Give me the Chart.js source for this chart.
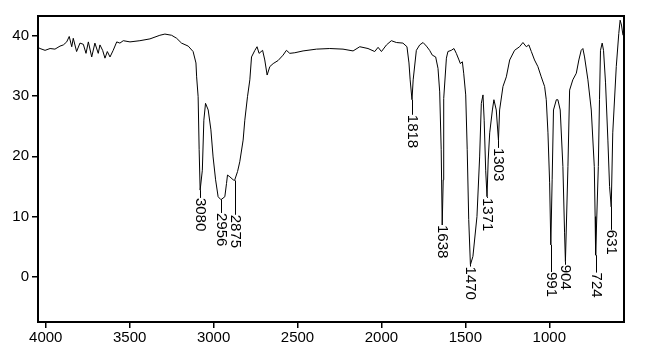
<!DOCTYPE html>
<html>
<head>
<meta charset="utf-8">
<script src="https://cdn.jsdelivr.net/npm/chart.js@4/dist/chart.umd.min.js"></script>
<style>
  html, body { margin: 0; padding: 0; background: #ffffff; }
  canvas { display: block; }
</style>
</head>
<body>
<canvas id="c" width="656" height="357"></canvas>
<script>
// Wavenumber (cm-1) and transmittance values
const wavenumbers = [
  4046, 4034, 4004, 3974, 3945, 3915, 3895, 3875, 3860, 3845, 3836, 3816, 3796, 3776, 3760, 3746,
  3726, 3707, 3687, 3677, 3661, 3647, 3633, 3617, 3598, 3577, 3558, 3538, 3498, 3439, 3379, 3320,
  3290, 3250, 3220, 3191, 3151, 3122, 3105, 3101, 3092, 3086, 3080, 3067, 3058, 3048, 3032, 3016,
  3003, 2988, 2973, 2956, 2933, 2923, 2917, 2903, 2883, 2875, 2857, 2844, 2824, 2814, 2798, 2784,
  2774, 2754, 2741, 2729, 2708, 2695, 2681, 2665, 2645, 2616, 2586, 2566, 2546, 2516, 2467, 2387,
  2308, 2229, 2169, 2129, 2080, 2040, 2020, 2000, 1970, 1941, 1911, 1872, 1848, 1836, 1829, 1818,
  1811, 1792, 1772, 1752, 1732, 1713, 1697, 1677, 1663, 1653, 1644, 1638, 1632, 1629, 1613, 1604,
  1584, 1568, 1554, 1538, 1530, 1518, 1510, 1498, 1489, 1480, 1470, 1455, 1431, 1415, 1405, 1395,
  1388, 1379, 1371, 1364, 1355, 1339, 1330, 1316, 1303, 1296, 1276, 1256, 1236, 1207, 1177, 1157,
  1137, 1122, 1107, 1088, 1068, 1048, 1028, 1018, 1008, 998, 991, 983, 975, 958, 949, 935,
  919, 909, 904, 889, 879, 860, 839, 824, 810, 800, 790, 770, 750, 732, 727, 724,
  708, 701, 695, 685, 677, 665, 651, 641, 631, 622, 601, 586, 578, 570, 561
];
const transmittance = [
  38.1, 37.9, 37.6, 37.9, 37.8, 38.3, 38.5, 39.0, 39.9, 38.2, 39.6, 37.4, 38.8, 38.6, 37.1, 39.0,
  36.5, 38.8, 37.1, 38.5, 37.6, 36.3, 37.4, 36.5, 37.6, 39.0, 38.8, 39.2, 39.0, 39.2, 39.5, 40.1,
  40.3, 40.1, 39.6, 38.8, 38.3, 37.4, 35.5, 33.2, 29.9, 21.1, 14.4, 17.7, 26.0, 28.8, 27.7, 24.4,
  19.9, 16.1, 13.3, 12.8, 13.3, 15.5, 16.9, 16.6, 16.1, 16.0, 17.5, 19.1, 22.7, 26.0, 29.9, 32.7,
  36.5, 37.6, 38.2, 37.1, 37.6, 36.0, 33.5, 34.9, 35.4, 35.9, 36.8, 37.6, 37.1, 37.2, 37.5, 37.8,
  37.9, 37.8, 37.5, 38.2, 37.9, 37.4, 38.1, 37.4, 38.5, 39.2, 38.9, 38.8, 38.2, 35.5, 32.7, 29.4,
  32.7, 37.6, 38.5, 38.9, 38.3, 37.6, 36.8, 36.5, 34.6, 30.7, 21.1, 8.6, 16.1, 29.6, 36.3, 37.4,
  37.6, 37.9, 37.1, 36.0, 35.4, 35.7, 33.8, 30.2, 21.1, 9.5, 2.0, 3.4, 10.0, 19.9, 28.8, 30.2,
  26.0, 17.7, 13.3, 19.4, 23.9, 27.7, 29.4, 27.7, 22.7, 27.7, 31.6, 33.2, 36.0, 37.6, 38.2, 38.9,
  38.2, 38.5, 37.4, 36.0, 34.9, 33.2, 31.6, 29.4, 23.9, 15.6, 5.3, 16.1, 27.7, 29.4, 29.4, 27.7,
  18.3, 7.3, 2.5, 18.3, 31.0, 32.7, 33.8, 36.0, 37.6, 37.9, 36.5, 32.7, 27.7, 18.3, 10.0, 3.6,
  18.3, 29.4, 37.6, 38.8, 37.6, 32.2, 22.7, 15.0, 11.6, 23.9, 34.9, 40.4, 42.6, 41.8, 40.1
];

// Peak annotations: wavenumber, transmittance at the band tip, transmittance at the label's top
const peakLabels      = ['3080', '2956', '2875', '1818', '1638', '1470', '1371', '1303', '991', '904', '724', '631'];
const peakWavenumbers = [3080, 2956, 2875, 1818, 1638, 1470, 1371, 1303, 991, 904, 724, 631];
const peakTipT        = [14.4, 12.8, 16.0, 29.4, 8.6, 2.0, 13.3, 22.7, 5.3, 2.5, 3.6, 11.6];
const peakLabelT      = [13.1, 10.6, 10.3, 26.9, 8.6, 1.7, 13.1, 21.4, 0.8, 2.0, 0.7, 7.8];

const xTicks = [4000, 3500, 3000, 2500, 2000, 1500, 1000];
const yTicks = [0, 10, 20, 30, 40];
const xRange = [555, 4046];
const yRange = [-7.5, 43.3];

const FONT_FAMILY = '"Liberation Sans Narrow", "Arial Narrow", "Liberation Sans", Arial, sans-serif';
const FONT_SIZE = 15;

const points = wavenumbers.map((v, i) => ({ x: v, y: transmittance[i] }));

const peakPlugin = {
  id: 'peaks',
  afterDatasetsDraw(chart) {
    const ctx = chart.ctx;
    const xs = chart.scales.x, ys = chart.scales.y;
    ctx.save();
    ctx.strokeStyle = '#000';
    ctx.fillStyle = '#000';
    ctx.lineWidth = 1;
    ctx.font = FONT_SIZE + 'px ' + FONT_FAMILY;
    peakWavenumbers.forEach((v, i) => {
      const px = Math.round(xs.getPixelForValue(v)) + 0.5;
      const yTip = ys.getPixelForValue(peakTipT[i]);
      const yLab = ys.getPixelForValue(peakLabelT[i]);
      if (yLab > yTip + 0.5) {
        ctx.beginPath();
        ctx.moveTo(px, yTip);
        ctx.lineTo(px, yLab);
        ctx.stroke();
      }
      ctx.save();
      ctx.translate(px, yLab);
      ctx.rotate(Math.PI / 2);
      ctx.textAlign = 'left';
      ctx.textBaseline = 'middle';
      ctx.fillText(peakLabels[i], 0, 0);
      ctx.restore();
    });
    ctx.restore();
  },
  afterDraw(chart) {
    const a = chart.chartArea;
    const ctx = chart.ctx;
    ctx.save();
    ctx.strokeStyle = '#000';
    ctx.lineWidth = 2;
    ctx.strokeRect(a.left, a.top, a.right - a.left, a.bottom - a.top);
    ctx.restore();
  }
};

new Chart(document.getElementById('c'), {
  type: 'line',
  data: {
    datasets: [{
      data: points,
      borderColor: '#000',
      borderWidth: 1,
      pointRadius: 0,
      tension: 0,
      fill: false
    }]
  },
  options: {
    responsive: false,
    animation: false,
    devicePixelRatio: 1,
    parsing: false,
    layout: { padding: { top: 16, right: 32, left: 0, bottom: 0 } },
    plugins: { legend: { display: false }, tooltip: { enabled: false } },
    scales: {
      x: {
        type: 'linear',
        reverse: true,
        min: xRange[0],
        max: xRange[1],
        afterBuildTicks: (s) => { s.ticks = xTicks.map(v => ({ value: v })); },
        afterFit: (s) => { s.height = 35; },
        grid: { display: true, drawOnChartArea: false, drawTicks: true, tickLength: 6, color: '#000', lineWidth: 1.5 },
        border: { display: false },
        ticks: {
          color: '#000',
          padding: 1,
          maxRotation: 0,
          autoSkip: false,
          font: { family: FONT_FAMILY, size: FONT_SIZE },
          callback: (v) => String(v)
        }
      },
      y: {
        type: 'linear',
        min: yRange[0],
        max: yRange[1],
        afterBuildTicks: (s) => { s.ticks = yTicks.map(v => ({ value: v })); },
        afterFit: (s) => { s.width = 38; },
        grid: { display: true, drawOnChartArea: false, drawTicks: true, tickLength: 6, color: '#000', lineWidth: 1.5 },
        border: { display: false },
        ticks: {
          color: '#000',
          padding: 3,
          autoSkip: false,
          font: { family: FONT_FAMILY, size: FONT_SIZE },
          callback: (v) => String(v)
        }
      }
    }
  },
  plugins: [peakPlugin]
});
</script>
</body>
</html>
